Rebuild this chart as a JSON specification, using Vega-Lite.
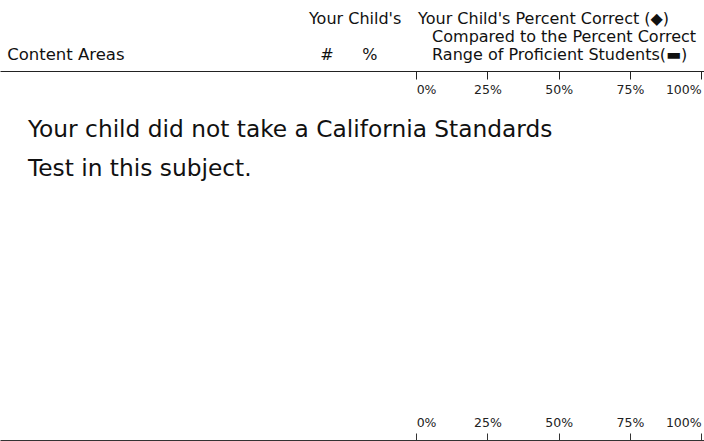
{
  "$schema": "https://vega.github.io/schema/vega-lite/v6.json",
  "width": 704,
  "height": 369,
  "autosize": {"type": "none"},
  "padding": {"top": 71, "left": 0, "right": 0, "bottom": 1},
  "background": "white",
  "config": {
    "view": {"stroke": null},
    "text": {"font": "DejaVu Sans", "color": "#111111"}
  },
  "datasets": {
    "headerLeft": [
      {"label": "Your Child's Percent Correct (◆)", "x": 0.7, "y": -12.74},
      {"label": "Compared to the Percent Correct", "x": 5.6, "y": -7.99},
      {"label": "Range of Proficient Students(▬)", "x": 5.6, "y": -3.0}
    ],
    "areas": [
      {"label": "Content Areas", "x": -143.5, "y": -3.0}
    ],
    "headerCenter": [
      {"label": "Your Child's", "x": -21.4, "y": -12.74},
      {"label": "#", "x": -31.3, "y": -3.0},
      {"label": "%", "x": -16.2, "y": -3.0}
    ],
    "body": [
      {"label": "Your child did not take a California Standards", "x": -136.2, "y": 17.89},
      {"label": "Test in this subject.", "x": -136.2, "y": 28.46}
    ]
  },
  "layer": [
    {
      "data": {"name": "headerLeft"},
      "mark": {"type": "text", "align": "left", "baseline": "alphabetic", "fontSize": 16},
      "encoding": {
        "x": {
          "field": "x", "type": "quantitative",
          "scale": {"domain": [-146, 101], "nice": false, "zero": false},
          "axis": {
            "orient": "top", "values": [0, 25, 50, 75, 100],
            "labelExpr": "datum.value + '%'",
            "tickSize": -8, "labelPadding": -10, "labelBaseline": "middle",
            "labelAlign": {"condition": [{"test": "datum.value === 0", "value": "left"}, {"test": "datum.value === 100", "value": "right"}], "value": "center"},
            "labelFlush": false, "labelOverlap": false, "labelBound": false,
            "domainColor": "#222222", "tickColor": "#222222", "labelColor": "#222222",
            "labelFont": "DejaVu Sans", "labelFontSize": 12.5, "grid": false, "title": null
          }
        },
        "y": {"field": "y", "type": "quantitative", "scale": {"domain": [0, 100], "reverse": true, "nice": false, "zero": false}, "axis": null},
        "text": {"field": "label"}
      }
    },
    {
      "data": {"name": "headerCenter"},
      "mark": {"type": "text", "align": "center", "baseline": "alphabetic", "fontSize": 16},
      "encoding": {
        "x": {
          "field": "x", "type": "quantitative",
          "scale": {"domain": [-146, 101], "nice": false, "zero": false},
          "axis": {
            "orient": "bottom", "values": [0, 25, 50, 75, 100],
            "labelExpr": "datum.value + '%'",
            "tickSize": -7, "labelPadding": -11, "labelBaseline": "middle",
            "labelAlign": {"condition": [{"test": "datum.value === 0", "value": "left"}, {"test": "datum.value === 100", "value": "right"}], "value": "center"},
            "labelFlush": false, "labelOverlap": false, "labelBound": false,
            "domainColor": "#333333", "tickColor": "#333333", "labelColor": "#222222",
            "labelFont": "DejaVu Sans", "labelFontSize": 12.5, "grid": false, "title": null
          }
        },
        "y": {"field": "y", "type": "quantitative", "scale": {"domain": [0, 100], "reverse": true, "nice": false, "zero": false}, "axis": null},
        "text": {"field": "label"}
      }
    },
    {
      "data": {"name": "areas"},
      "mark": {"type": "text", "align": "left", "baseline": "alphabetic", "fontSize": 16.5},
      "encoding": {
        "x": {"field": "x", "type": "quantitative", "scale": {"domain": [-146, 101], "nice": false, "zero": false}, "axis": null},
        "y": {"field": "y", "type": "quantitative", "scale": {"domain": [0, 100], "reverse": true, "nice": false, "zero": false}, "axis": null},
        "text": {"field": "label"}
      }
    },
    {
      "data": {"name": "body"},
      "mark": {"type": "text", "align": "left", "baseline": "alphabetic", "fontSize": 23.3},
      "encoding": {
        "x": {"field": "x", "type": "quantitative", "scale": {"domain": [-146, 101], "nice": false, "zero": false}, "axis": null},
        "y": {"field": "y", "type": "quantitative", "scale": {"domain": [0, 100], "reverse": true, "nice": false, "zero": false}, "axis": null},
        "text": {"field": "label"}
      }
    }
  ],
  "resolve": {"scale": {"x": "shared", "y": "shared"}, "axis": {"x": "independent"}}
}
